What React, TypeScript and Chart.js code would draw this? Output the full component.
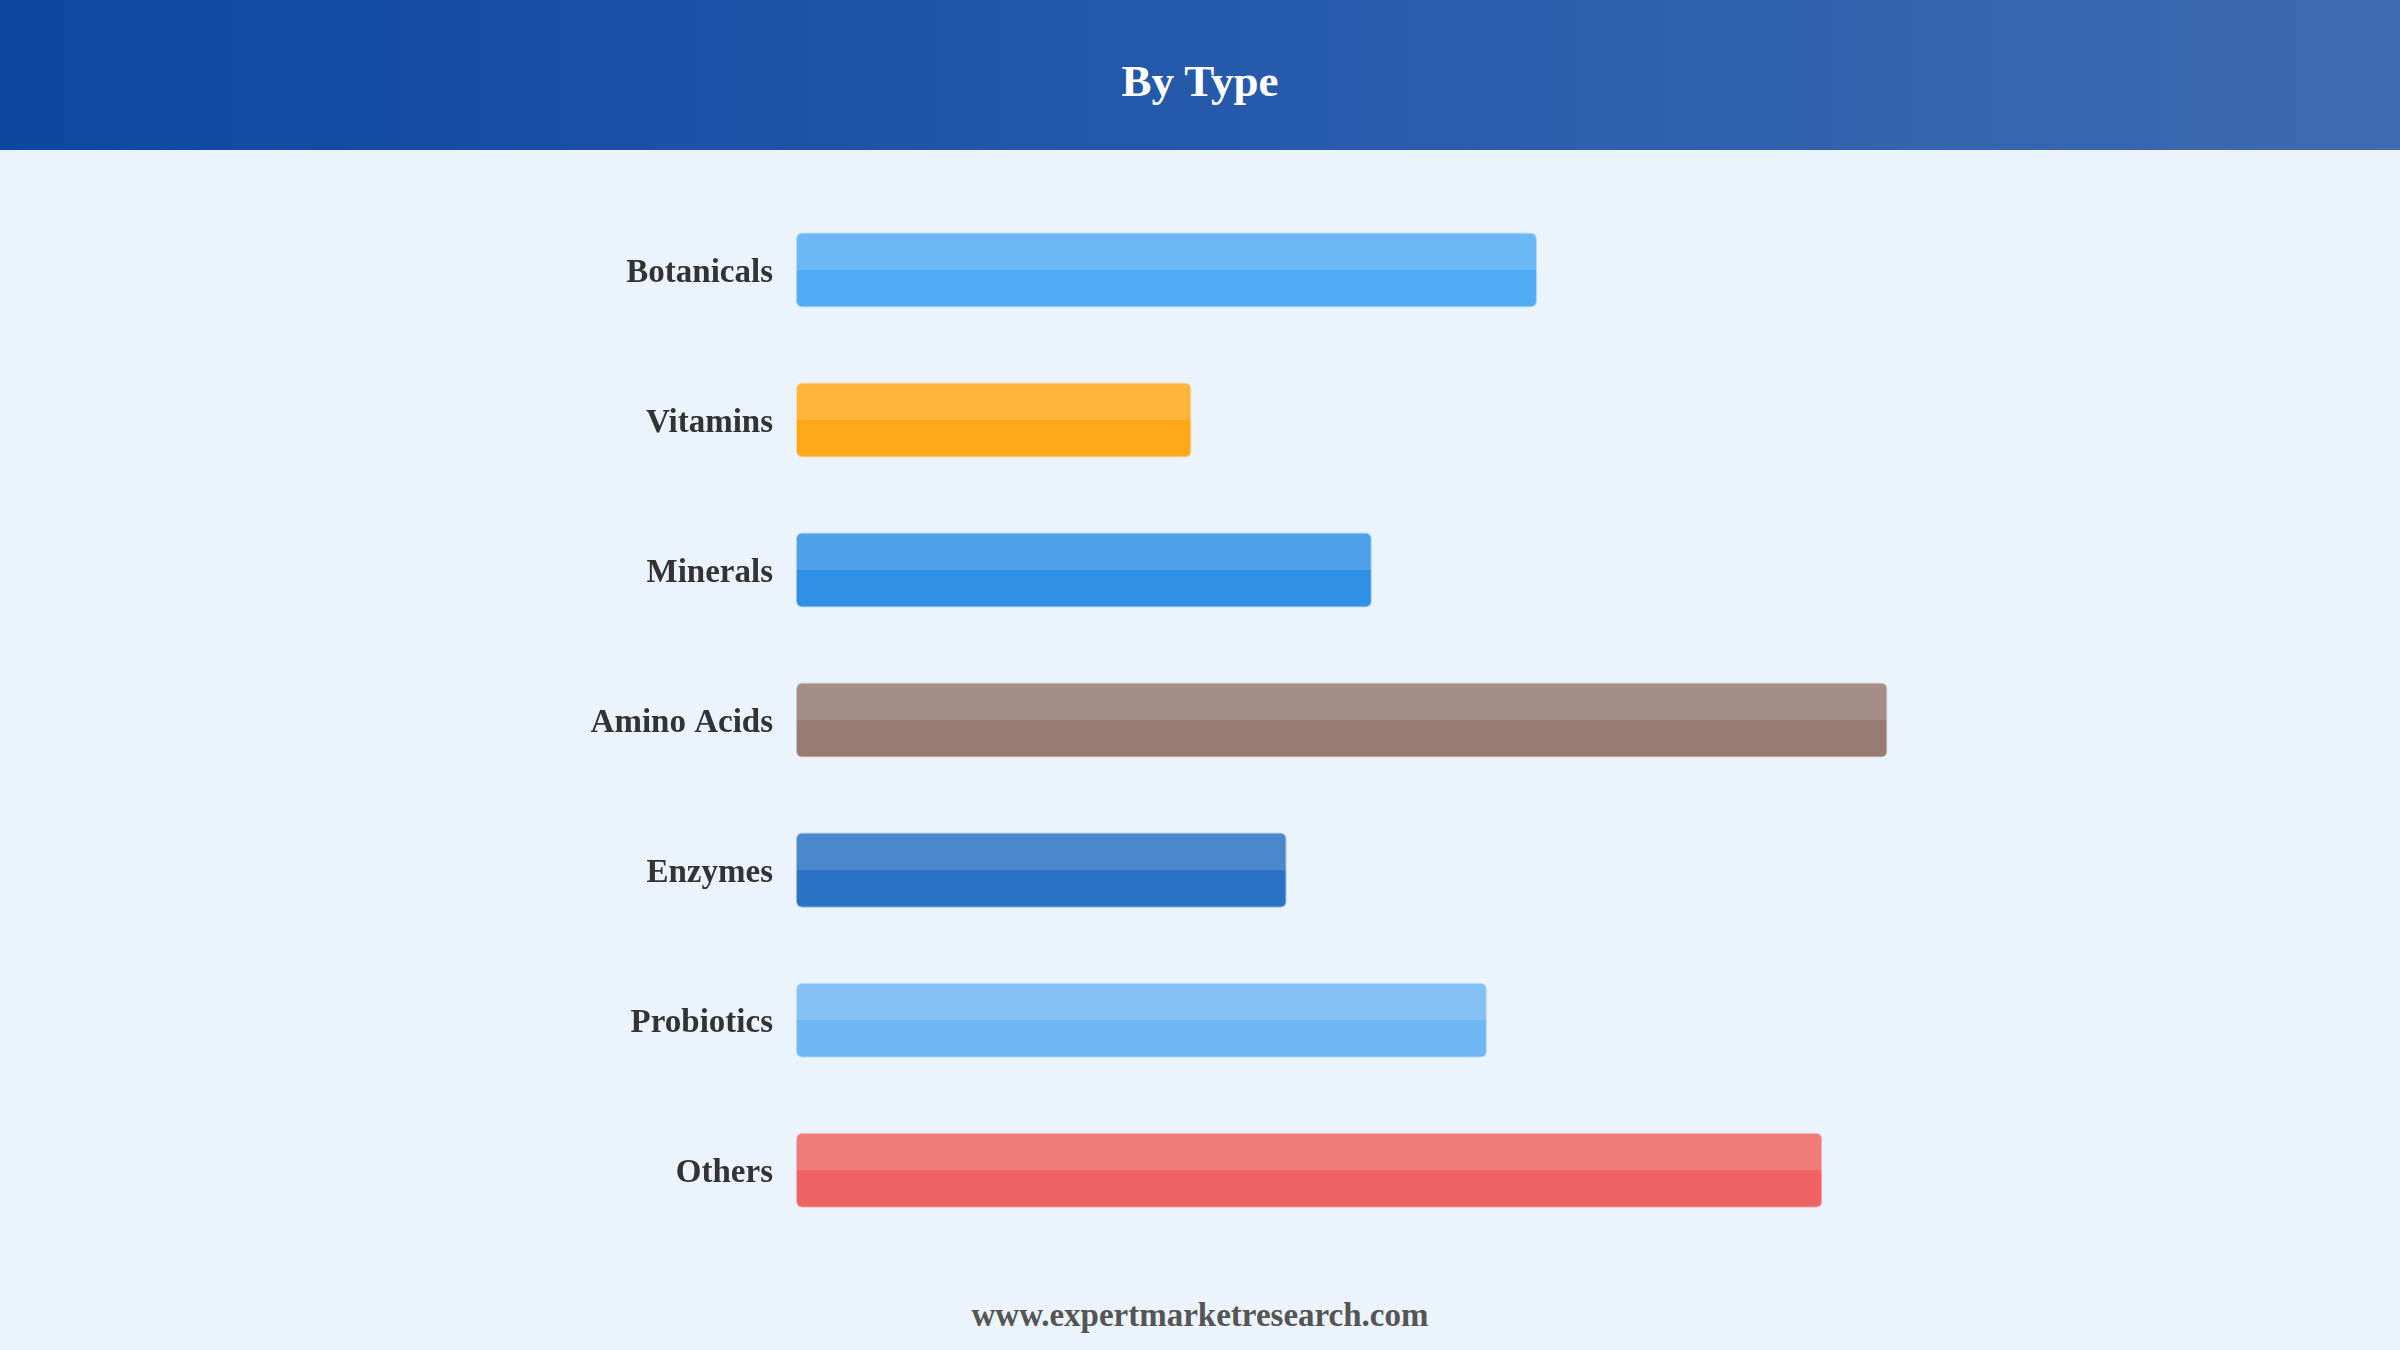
import React, { useEffect, useRef } from "react";
import { Chart, registerables } from "chart.js";
Chart.register(...registerables);

const titleText = "By Type";
const footerText = "www.expertmarketresearch.com";
const categories = ["Botanicals", "Vitamins", "Minerals", "Amino Acids", "Enzymes", "Probiotics", "Others"];
const values = [14.8, 7.9, 11.5, 21.8, 9.8, 13.8, 20.5];
const barColors = ["#52ACF5", "#FFA918", "#2F90E6", "#977A70", "#2C72C4", "#6FB8F4", "#EF6363"];
const axisMax = 30;

const FONT = '"Liberation Serif", "Times New Roman", serif';

const highlightPlugin = {
  id: "highlight",
  afterDatasetsDraw(chart: any) {
    const ctx = chart.ctx;
    const meta = chart.getDatasetMeta(0);
    meta.data.forEach((el: any) => {
      const { x, y, base, height } = el.getProps(["x", "y", "base", "height"], true);
      const left = Math.min(x, base);
      const right = Math.max(x, base);
      const top = y - height / 2;
      ctx.save();
      ctx.beginPath();
      ctx.roundRect(left, top, right - left, height, 6);
      ctx.clip();
      ctx.fillStyle = "rgba(255,255,255,0.15)";
      ctx.fillRect(left, top, right - left, height / 2);
      ctx.restore();
    });
  },
};

export default function App() {
  const ref = useRef<HTMLCanvasElement | null>(null);

  useEffect(() => {
    document.body.style.margin = "0";
    if (!ref.current) return;
    const chart = new Chart(ref.current, {
      type: "bar",
      data: {
        labels: categories,
        datasets: [
          {
            data: values,
            backgroundColor: barColors,
            borderColor: barColors.map((c) => c + "70"),
            borderWidth: 1,
            borderRadius: 6,
            borderSkipped: false,
            categoryPercentage: 1,
            barPercentage: 0.5,
          },
        ],
      },
      options: {
        indexAxis: "y",
        animation: false,
        responsive: false,
        devicePixelRatio: 1,
        layout: { padding: { top: 45, bottom: 28, right: 102, left: 0 } },
        plugins: {
          legend: { display: false },
          tooltip: { enabled: false },
          title: { display: false },
        },
        scales: {
          x: { display: false, min: 0, max: axisMax },
          y: {
            grid: { display: false },
            border: { display: false },
            ticks: {
              padding: 15,
              labelOffset: 3,
              color: "#333333",
              font: { family: FONT, size: 33, weight: "bold" },
            },
            afterFit(scale: any) {
              scale.width = 796;
            },
          },
        },
      },
      plugins: [highlightPlugin],
    });
    return () => chart.destroy();
  }, []);

  return (
    <div
      style={{
        position: "relative",
        width: 2400,
        height: 1350,
        background: "#EBF3FC",
        fontFamily: FONT,
        overflow: "hidden",
      }}
    >
      <div
        style={{
          position: "absolute",
          left: 0,
          top: 0,
          width: 2400,
          height: 150,
          background: "linear-gradient(to right, #0D47A1, #3D6BB3)",
          display: "flex",
          alignItems: "center",
          justifyContent: "center",
        }}
      >
        <div style={{ color: "#FFFFFF", fontWeight: "bold", fontSize: 45, marginTop: 12, fontFamily: FONT }}>
          {titleText}
        </div>
      </div>
      <canvas
        ref={ref}
        width={2400}
        height={1130}
        style={{ position: "absolute", left: 0, top: 150, width: 2400, height: 1130 }}
      />
      <div
        style={{
          position: "absolute",
          left: 0,
          top: 1293,
          width: 2400,
          textAlign: "center",
          color: "#555555",
          fontWeight: "bold",
          fontSize: 33,
          lineHeight: "44px",
          fontFamily: FONT,
        }}
      >
        {footerText}
      </div>
    </div>
  );
}
